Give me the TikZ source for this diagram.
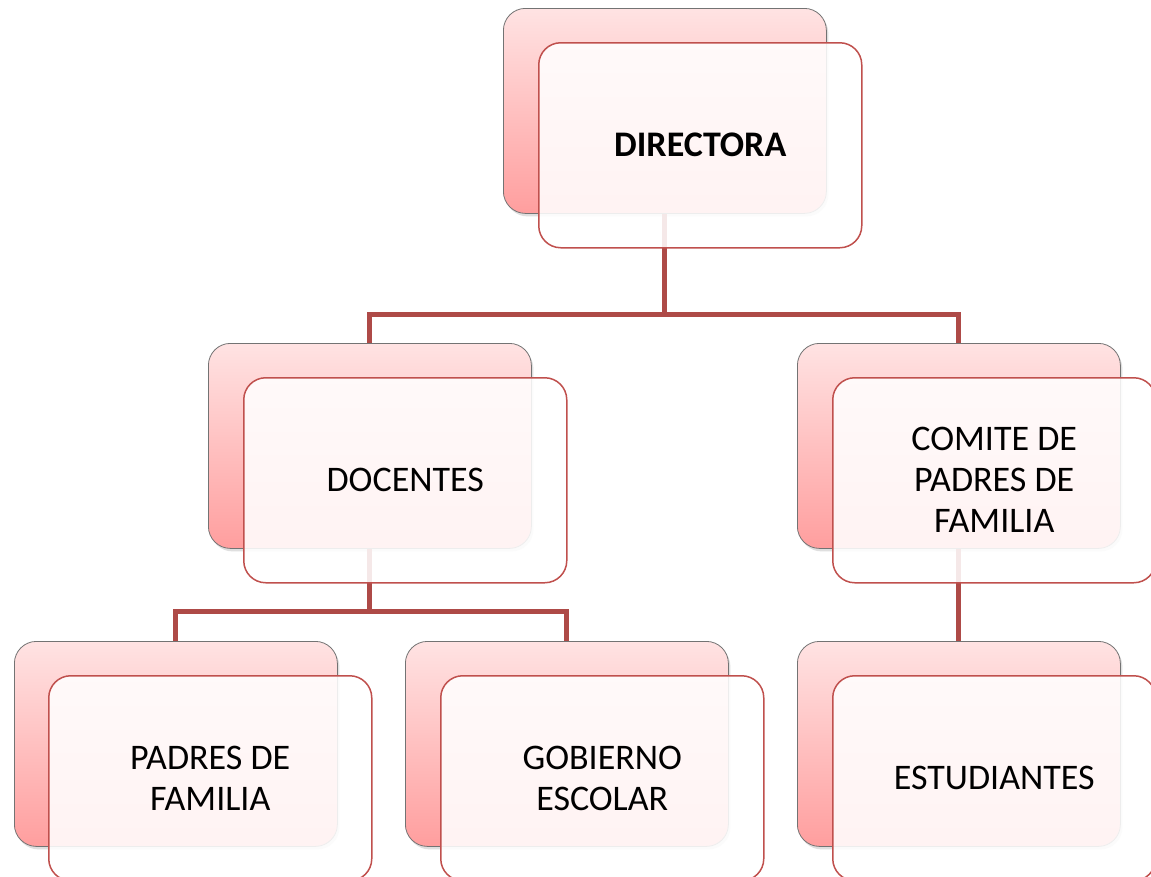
\documentclass[tikz,border=0pt]{standalone}
\usepackage{fontspec}
\setmainfont{Carlito}
\usetikzlibrary{shadows}
\definecolor{conncol}{HTML}{AE4A47}
\definecolor{frontline}{HTML}{C0504D}
\definecolor{backtop}{HTML}{FFE3E3}
\definecolor{backbot}{HTML}{FF9E9E}
\tikzset{
  backbox/.style={rectangle, rounded corners=22pt, minimum width=323pt, minimum height=205pt,
    inner sep=0pt, anchor=north west, top color=backtop, bottom color=backbot,
    draw=black!55, line width=0.8pt,
    drop shadow={opacity=0.25, shadow xshift=2pt, shadow yshift=-3pt}},
  frontbox/.style={rectangle, rounded corners=22pt, minimum width=323pt, minimum height=205pt,
    inner sep=0pt, anchor=north west, fill=white, fill opacity=0.88, text opacity=1,
    draw=frontline, draw opacity=1, line width=1.5pt, align=center,
    font=\fontsize{36}{41}\selectfont},
  connline/.style={draw=conncol, line width=5pt}
}
\begin{document}
\begin{tikzpicture}[x=1pt,y=-1pt]
\useasboundingbox (0,0) rectangle (1151,876);
\clip (0,0) rectangle (1151,876);
\fill[white] (0,0) rectangle (1151,876);
% back boxes
\node[backbox] (dirB) at (503,8) {};
\node[backbox] (docB) at (208,343) {};
\node[backbox] (comB) at (797,343) {};
\node[backbox] (padB) at (14,641) {};
\node[backbox] (gobB) at (405,641) {};
\node[backbox] (estB) at (797,641) {};
% connectors
\draw[connline] (dirB.south) -- ++(0,101) -| (docB.north);
\draw[connline] (dirB.south) ++(0,101) -| (comB.north);
\draw[connline] (docB.south) -- ++(0,63) -| (padB.north);
\draw[connline] (docB.south) ++(0,63) -| (gobB.north);
\draw[connline] (comB.south) -- (estB.north);
% front boxes
\node[frontbox] (dirF) at (538,42) {\textbf{DIRECTORA}};
\node[frontbox] (docF) at (243,377) {DOCENTES};
\node[frontbox] (comF) at (832,377) {COMITE DE\\PADRES DE\\FAMILIA};
\node[frontbox] (padF) at (48,675) {PADRES DE\\FAMILIA};
\node[frontbox] (gobF) at (440,675) {GOBIERNO\\ESCOLAR};
\node[frontbox] (estF) at (832,675) {ESTUDIANTES};
\end{tikzpicture}
\end{document}
